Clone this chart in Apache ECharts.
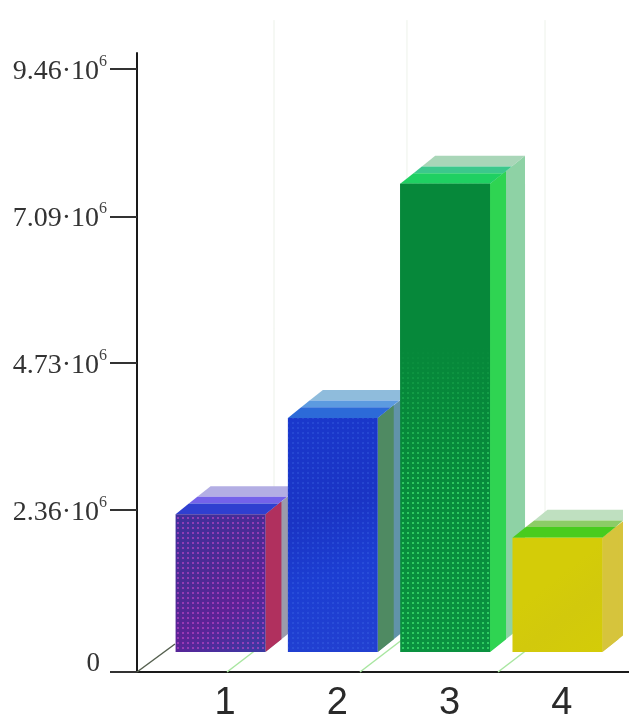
<!DOCTYPE html>
<html>
<head>
<meta charset="utf-8">
<style>html,body{margin:0;padding:0;background:#fff}#c{width:629px;height:727px}</style>
<script src="https://cdn.jsdelivr.net/npm/echarts@6/dist/echarts.min.js"></script>
</head>
<body>
<div id="c"></div>
<script>
// Chart values
const categories = [1, 2, 3, 4];
const seriesValues = [2.22e6, 3.77e6, 7.54e6, 1.84e6];
const tickValues = [2.36e6, 4.73e6, 7.09e6, 9.46e6];
const tickLabels = ['2.36', '4.73', '7.09', '9.46'];
// Where the floor guides meet the horizontal axis, in axis units
const floorGuides = [1.018, 2.202, 3.431];

// Axis extents: the perspective floor drops below the zero plane
const axisFloor = -0.25e6;
const axisTop = 9.72e6;
const xMin = 0.2164, xMax = 4.5975;

// Box appearance, one entry per bar
const palette = [
  { front: ['#3f2f9c', '#4c2a94', '#5c2296', '#3a3aa4'], dot: 'rgba(205,75,205,0.55)', dotTop: 0,
    top: ['#2f3fd0', '#7462ea', '#b3aee4'], side: ['#b0305e', 'rgba(130,130,150,0.8)'] },
  { front: ['#1a38cc', '#1a34c4', '#1c3ed2', '#2240d0'], dot: 'rgba(70,120,240,0.25)', dotTop: 0,
    top: ['#2c6ad8', '#5c9ae0', '#8fbcdc'], side: ['#4f8a62', 'rgba(80,135,160,0.9)'] },
  { front: ['#06883a', '#06883a', '#078c3c', '#0a9240'], dot: 'rgba(70,240,120,0.62)', dotTop: 0.35,
    top: ['#1fd062', '#3cc88c', '#a9d6b8'], side: ['#2fd452', 'rgba(130,205,155,0.9)'] },
  { front: ['#d4cc08', '#d4cc08', '#d2c90c', '#d4cc08'], dot: null, dotTop: 0,
    top: ['#48cc1e', '#8ccc66', '#bfe0c0'], side: ['#d6c43c', '#d6c43c'] }
];

// Box geometry in pixels
const depthX = 35, depthY = 28, nearSide = 16;
const baseLift = 4.5;
const rightClip = 623;

function dotPattern(color) {
  const cv = document.createElement('canvas');
  cv.width = cv.height = 5;
  const g = cv.getContext('2d');
  g.fillStyle = color;
  g.fillRect(2, 2, 2, 2);
  return { image: cv, repeat: 'repeat' };
}
const patterns = palette.map(p => p.dot ? dotPattern(p.dot) : null);

function poly(points, fill) {
  return { type: 'polygon', shape: { points }, style: { fill }, silent: true };
}

function renderBox(params, api) {
  const i = params.dataIndex;
  const look = palette[i];
  const center = api.coord([api.value(0) - 0.04, 0]);
  const width = api.size([0.8, 0])[0];
  const left = center[0] - width / 2, right = left + width;
  const base = center[1] - baseLift;
  const topY = api.coord([api.value(0), api.value(1)])[1] - baseLift;
  const slope = depthY / depthX;

  const cx = x => Math.min(x, rightClip);
  const children = [];

  // Side wall: translucent far strip behind a stronger near strip
  const sideFar = cx(right + depthX), sideNear = cx(right + nearSide);
  const dropFar = (sideFar - right) * slope, dropNear = (sideNear - right) * slope;
  children.push(poly([[right, topY], [sideFar, topY - dropFar], [sideFar, base - dropFar], [right, base]], look.side[1]));
  children.push(poly([[right, topY], [sideNear, topY - dropNear], [sideNear, base - dropNear], [right, base]], look.side[0]));

  // Top plate in three bands from the front edge towards the back
  const band = (a, b) => {
    const ax = a * depthX, ay = a * depthY, bx = b * depthX, by = b * depthY;
    return [[left + ax, topY - ay], [cx(right + ax), topY - ay], [cx(right + bx), topY - by], [left + bx, topY - by]];
  };
  children.push(poly(band(0.62, 1), look.top[2]));
  children.push(poly(band(0.38, 0.62), look.top[1]));
  children.push(poly(band(0, 0.38), look.top[0]));

  // Front face with its dotted mesh
  const rect = { x: left, y: topY, width, height: base - topY };
  const f = look.front;
  children.push({ type: 'rect', shape: rect, silent: true, style: { fill: {
    type: 'linear', x: 0, y: 0, x2: 1, y2: 1,
    colorStops: [{ offset: 0, color: f[0] }, { offset: 0.4, color: f[1] }, { offset: 0.65, color: f[2] }, { offset: 1, color: f[3] }]
  } } });
  if (patterns[i]) {
    children.push({ type: 'rect', shape: rect, silent: true, style: { fill: patterns[i] } });
    if (look.dotTop > 0) {
      children.push({ type: 'rect', shape: rect, silent: true, style: { fill: {
        type: 'linear', x: 0, y: 0, x2: 0, y2: 1,
        colorStops: [{ offset: 0, color: f[0] }, { offset: look.dotTop, color: f[0] },
                     { offset: look.dotTop + 0.3, color: 'rgba(6,136,58,0)' }, { offset: 1, color: 'rgba(6,136,58,0)' }]
      } } });
    }
  }
  return { type: 'group', children };
}

function renderGuide(params, api) {
  const foot = api.coord([api.value(0), axisFloor]);
  const backX = foot[0] + 47, backY = foot[1] - 36;
  const upper = api.coord([api.value(0), 10.25e6]);
  return { type: 'group', children: [
    { type: 'polyline', silent: true, shape: { points: [foot, [backX, backY]] }, style: { fill: 'none', stroke: '#a8e6a0', lineWidth: 1.5 } },
    { type: 'polyline', silent: true, shape: { points: [[backX, backY], [backX, upper[1]]] }, style: { fill: 'none', stroke: '#edf2ea', lineWidth: 1 } }
  ] };
}

function renderOrigin(params, api) {
  const foot = api.coord([xMin, axisFloor]);
  return { type: 'polyline', silent: true, shape: { points: [foot, [foot[0] + 38, foot[1] - 28]] }, style: { fill: 'none', stroke: '#55604f', lineWidth: 1.5 } };
}

const chart = echarts.init(document.getElementById('c'), null, { renderer: 'canvas' });
chart.setOption({
  animation: false,
  backgroundColor: '#ffffff',
  grid: { left: 137, right: 0, top: 53, bottom: 55, containLabel: false },
  xAxis: {
    type: 'value', min: xMin, max: xMax, splitLine: { show: false },
    axisLine: { show: true, onZero: false, lineStyle: { color: '#1a1a1a', width: 2 } },
    axisTick: { show: false },
    axisLabel: {
      customValues: categories, margin: 13, color: '#2a2a2a',
      fontFamily: 'Liberation Sans', fontSize: 38, hideOverlap: false,
      formatter: v => String(v)
    }
  },
  yAxis: {
    type: 'value', min: axisFloor, max: axisTop, splitLine: { show: false },
    axisLine: { show: true, onZero: false, lineStyle: { color: '#1a1a1a', width: 2 } },
    axisTick: { show: true, length: 27, customValues: [axisFloor].concat(tickValues), lineStyle: { color: '#333', width: 2 } },
    axisLabel: {
      customValues: [axisFloor].concat(tickValues), margin: 30, color: '#333',
      fontFamily: 'Liberation Serif', fontSize: 28,
      formatter: v => {
        const k = tickValues.indexOf(v);
        return k < 0 ? '{z|0}' : '{b|' + tickLabels[k] + '·10}{s|6}';
      },
      rich: {
        b: { fontFamily: 'Liberation Serif', fontSize: 28, color: '#333', padding: [5, 0, 0, 0] },
        s: { fontFamily: 'Liberation Serif', fontSize: 16, color: '#444', padding: [0, 0, 15, 0] },
        z: { fontFamily: 'Liberation Serif', fontSize: 27, color: '#333', padding: [0, 7, 16, 0] }
      }
    }
  },
  series: [
    { type: 'custom', name: 'guides', coordinateSystem: 'cartesian2d', clip: false, z: 1, renderItem: renderGuide, data: floorGuides.map(x => [x, 0]), silent: true },
    { type: 'custom', name: 'origin', coordinateSystem: 'cartesian2d', clip: false, z: 1, renderItem: renderOrigin, data: [[xMin, axisFloor]], silent: true },
    { type: 'custom', name: 'boxes', coordinateSystem: 'cartesian2d', clip: false, z: 2, renderItem: renderBox, data: categories.map((c, i) => [c, seriesValues[i]]), silent: true }
  ]
});
</script>
</body>
</html>
